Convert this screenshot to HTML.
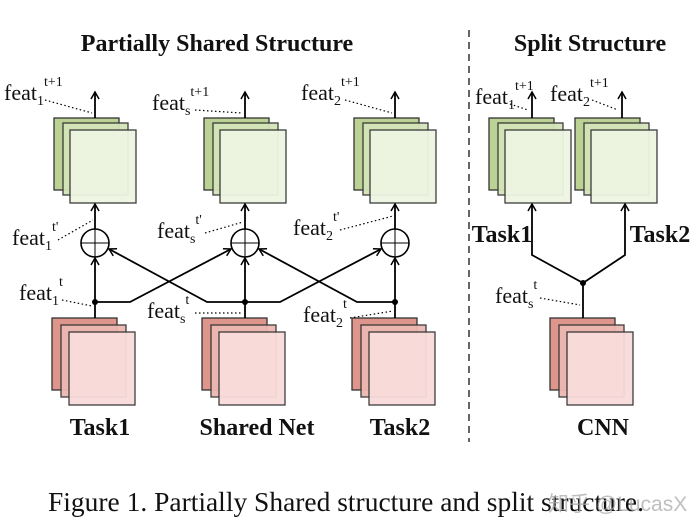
<!DOCTYPE html>
<html><head><meta charset="utf-8"><style>
html,body{margin:0;padding:0;background:#fff;}
svg{display:block;}
text{font-family:"Liberation Serif",serif;fill:#111;}
.b{font-weight:bold;}
</style></head><body>
<svg width="697" height="529" viewBox="0 0 697 529" xmlns="http://www.w3.org/2000/svg">
<defs>
<g id="gs">
<rect x="0" y="0" width="65" height="72" fill="#bcd295" stroke="#333" stroke-width="1.3"/>
<rect x="9" y="5" width="65" height="72" fill="#d4e4b8" stroke="#333" stroke-width="1.3" opacity="0.95"/>
<rect x="16" y="12" width="66" height="73" fill="#eef5e2" stroke="#333" stroke-width="1.3" opacity="0.95"/>
</g>
<g id="rs">
<rect x="0" y="0" width="65" height="72" fill="#de958c" stroke="#333" stroke-width="1.3"/>
<rect x="9" y="7" width="65" height="72" fill="#edb8b2" stroke="#333" stroke-width="1.3" opacity="0.95"/>
<rect x="17" y="14" width="66" height="73" fill="#f9dcdb" stroke="#333" stroke-width="1.3" opacity="0.95"/>
</g>
<marker id="ar" markerWidth="10" markerHeight="10" refX="8" refY="5" orient="auto" markerUnits="userSpaceOnUse">
<path d="M1,1 L8,5 L1,9" fill="none" stroke="#000" stroke-width="1.5"/>
</marker>
<g id="circ">
<circle cx="0" cy="0" r="14" fill="#fff" stroke="#000" stroke-width="1.6"/>
<line x1="-14" y1="0" x2="14" y2="0" stroke="#000" stroke-width="1"/>
<line x1="0" y1="-14" x2="0" y2="14" stroke="#000" stroke-width="1"/>
</g>
</defs>

<text x="217" y="51" text-anchor="middle" font-size="24" class="b">Partially Shared Structure</text>
<text x="590" y="51" text-anchor="middle" font-size="24" class="b">Split Structure</text>
<line x1="469" y1="30" x2="469" y2="442" stroke="#000" stroke-width="1.2" stroke-dasharray="7,5"/>

<use href="#gs" x="54" y="118"/>
<use href="#gs" x="204" y="118"/>
<use href="#gs" x="354" y="118"/>
<use href="#gs" x="489" y="118"/>
<use href="#gs" x="575" y="118"/>

<use href="#rs" x="52" y="318"/>
<use href="#rs" x="202" y="318"/>
<use href="#rs" x="352" y="318"/>
<use href="#rs" x="550" y="318"/>

<g stroke="#000" stroke-width="1.8" fill="none">
<line x1="95" y1="118" x2="95" y2="92" marker-end="url(#ar)"/>
<line x1="245" y1="118" x2="245" y2="92" marker-end="url(#ar)"/>
<line x1="395" y1="118" x2="395" y2="92" marker-end="url(#ar)"/>
<line x1="532" y1="118" x2="532" y2="92" marker-end="url(#ar)"/>
<line x1="622" y1="118" x2="622" y2="92" marker-end="url(#ar)"/>
<line x1="95" y1="229" x2="95" y2="204" marker-end="url(#ar)"/>
<line x1="245" y1="229" x2="245" y2="204" marker-end="url(#ar)"/>
<line x1="395" y1="229" x2="395" y2="204" marker-end="url(#ar)"/>
<line x1="95" y1="318" x2="95" y2="258" marker-end="url(#ar)"/>
<line x1="245" y1="318" x2="245" y2="258" marker-end="url(#ar)"/>
<line x1="395" y1="318" x2="395" y2="258" marker-end="url(#ar)"/>
<polyline points="95,302 130,302 231,249" marker-end="url(#ar)"/>
<polyline points="245,302 207,302 109,249" marker-end="url(#ar)"/>
<polyline points="245,302 280,302 381,249" marker-end="url(#ar)"/>
<polyline points="395,302 357,302 259,249" marker-end="url(#ar)"/>
<polyline points="583,318 583,283 532,255 532,204" marker-end="url(#ar)"/>
<polyline points="583,283 625,255 625,204" marker-end="url(#ar)"/>
</g>
<use href="#circ" x="95" y="243"/>
<use href="#circ" x="245" y="243"/>
<use href="#circ" x="395" y="243"/>
<circle cx="95" cy="302" r="3" fill="#000"/>
<circle cx="245" cy="302" r="3" fill="#000"/>
<circle cx="395" cy="302" r="3" fill="#000"/>
<circle cx="583" cy="283" r="3" fill="#000"/>

<g stroke="#000" stroke-width="1.2" stroke-dasharray="1.5,2.5" fill="none">
<line x1="45" y1="100" x2="92" y2="113"/>
<line x1="195" y1="110" x2="242" y2="113"/>
<line x1="345" y1="100" x2="392" y2="113"/>
<line x1="58" y1="240" x2="93" y2="220"/>
<line x1="205" y1="233" x2="243" y2="222"/>
<line x1="340" y1="230" x2="393" y2="216"/>
<line x1="62" y1="300" x2="92" y2="306"/>
<line x1="195" y1="313" x2="243" y2="313"/>
<line x1="350" y1="318" x2="393" y2="311"/>
<line x1="510" y1="104" x2="528" y2="110"/>
<line x1="592" y1="100" x2="618" y2="110"/>
<line x1="540" y1="298" x2="580" y2="305"/>
</g>

<g font-size="22">
<text x="4" y="100">feat<tspan font-size="14" dy="5">1</tspan><tspan font-size="14" dy="-19">t+1</tspan></text>
<text x="152" y="110">feat<tspan font-size="14" dy="5">s</tspan><tspan font-size="14" dy="-19">t+1</tspan></text>
<text x="301" y="100">feat<tspan font-size="14" dy="5">2</tspan><tspan font-size="14" dy="-19">t+1</tspan></text>
<text x="12" y="245">feat<tspan font-size="14" dy="5">1</tspan><tspan font-size="14" dy="-19">t'</tspan></text>
<text x="157" y="238">feat<tspan font-size="14" dy="5">s</tspan><tspan font-size="14" dy="-19">t'</tspan></text>
<text x="293" y="235">feat<tspan font-size="14" dy="5">2</tspan><tspan font-size="14" dy="-19">t'</tspan></text>
<text x="19" y="300">feat<tspan font-size="14" dy="5">1</tspan><tspan font-size="14" dy="-19">t</tspan></text>
<text x="147" y="318">feat<tspan font-size="14" dy="5">s</tspan><tspan font-size="14" dy="-19">t</tspan></text>
<text x="303" y="322">feat<tspan font-size="14" dy="5">2</tspan><tspan font-size="14" dy="-19">t</tspan></text>
<text x="475" y="104">feat<tspan font-size="14" dy="5">1</tspan><tspan font-size="14" dy="-19">t+1</tspan></text>
<text x="550" y="101">feat<tspan font-size="14" dy="5">2</tspan><tspan font-size="14" dy="-19">t+1</tspan></text>
<text x="495" y="303">feat<tspan font-size="14" dy="5">s</tspan><tspan font-size="14" dy="-19">t</tspan></text>
</g>

<g font-size="24">
<text x="100" y="435" text-anchor="middle" class="b">Task1</text>
<text x="257" y="435" text-anchor="middle" class="b">Shared Net</text>
<text x="400" y="435" text-anchor="middle" class="b">Task2</text>
<text x="603" y="435" text-anchor="middle" class="b">CNN</text>
<text x="502" y="242" text-anchor="middle" class="b">Task1</text>
<text x="660" y="242" text-anchor="middle" class="b">Task2</text>
</g>

<text x="48" y="511" font-size="27" textLength="596" lengthAdjust="spacingAndGlyphs">Figure 1. Partially Shared structure and split structure.</text>
<text x="548" y="511" font-size="21" style="fill:#aaa;opacity:0.75;font-family:'Liberation Sans','Noto Sans CJK SC',sans-serif">知乎 @LucasX</text>
</svg>
</body></html>
